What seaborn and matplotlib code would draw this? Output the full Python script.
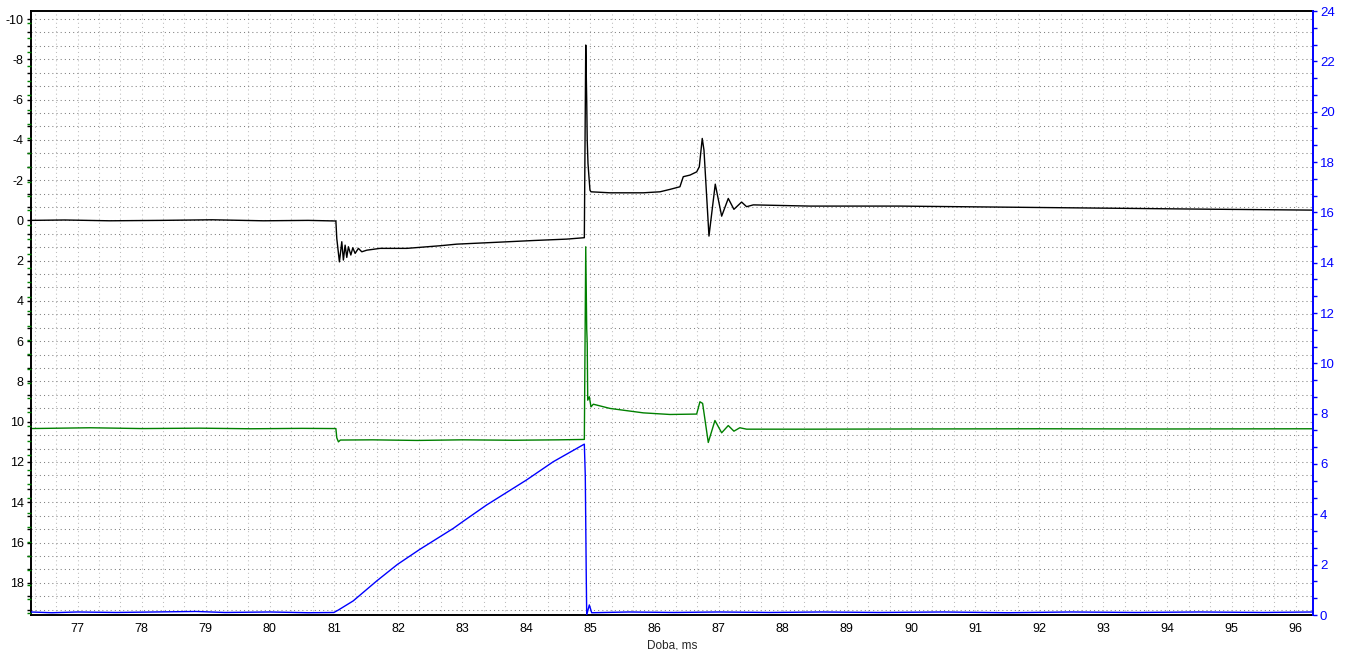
import numpy as np
import pandas as pd
import matplotlib
matplotlib.use("Agg")
import matplotlib.pyplot as plt
from matplotlib.ticker import MultipleLocator
import seaborn as sns

# --- data (time in ms) ---
black_t = [76.27, 76.8, 77.5, 78.3, 79.1, 79.9, 80.6, 81.03, 81.044, 81.085, 81.122, 81.147,
           81.174, 81.200, 81.225, 81.263, 81.294, 81.330, 81.381, 81.434, 81.512, 81.719,
           82.136, 82.655, 82.915, 83.590, 84.110, 84.630, 84.905, 84.927, 84.942, 84.95,
           84.962, 84.977, 84.993, 85.009, 85.305, 85.825, 86.085, 86.241, 86.396, 86.448,
           86.553, 86.657, 86.698, 86.744, 86.771, 86.849, 86.947, 87.047, 87.150, 87.238,
           87.358, 87.436, 87.540, 88.424, 89.82, 91.38, 92.94, 94.5, 96.27]
black_v = [0.0, -0.02, 0.02, 0.0, -0.03, 0.02, 0.0, 0.03, 0.9, 2.06, 1.06, 1.97,
           1.23, 1.84, 1.31, 1.72, 1.36, 1.64, 1.39, 1.56, 1.48, 1.39,
           1.39, 1.26, 1.18, 1.08, 1.0, 0.93, 0.86, -8.71, -5.98, -3.99,
           -2.83, -2.17, -1.5, -1.42, -1.37, -1.37, -1.42, -1.54, -1.67, -2.17,
           -2.25, -2.41, -2.66, -4.07, -3.49, 0.78, -1.8, -0.21, -1.09, -0.55,
           -0.91, -0.68, -0.77, -0.71, -0.71, -0.66, -0.61, -0.56, -0.51]

green_t = [76.27, 77.2, 78.0, 78.9, 79.7, 80.5, 81.03, 81.044, 81.07, 81.1, 81.6, 82.3,
           83.0, 83.8, 84.5, 84.905, 84.927, 84.942, 84.95, 84.958, 84.983, 85.009,
           85.045, 85.305, 85.825, 86.24, 86.657, 86.708, 86.75, 86.838, 86.942, 87.047,
           87.15, 87.238, 87.33, 87.436, 88.424, 90.0, 92.0, 94.0, 96.27]
green_v = [10.34, 10.3, 10.34, 10.32, 10.35, 10.33, 10.34, 10.8, 11.0, 10.91, 10.9, 10.93,
           10.9, 10.92, 10.9, 10.88, 1.31, 5.37, 6.11, 8.93, 8.76, 9.26,
           9.13, 9.34, 9.56, 9.64, 9.62, 9.01, 9.09, 11.03, 9.94, 10.55,
           10.19, 10.47, 10.30, 10.37, 10.37, 10.36, 10.35, 10.36, 10.35]

blue_t = [76.27, 76.6, 77.0, 77.6, 78.2, 78.85, 79.3, 80.0, 80.6, 81.0, 81.07, 81.3,
          81.67, 81.99, 82.34, 82.86, 83.02, 83.38, 84.0, 84.42, 84.905, 84.92, 84.935,
          84.942, 84.983, 85.02, 85.6, 86.3, 87.0, 87.8, 88.6, 89.5, 90.5, 91.5, 92.5,
          93.5, 94.5, 95.5, 96.27]
blue_v = [0.12, 0.09, 0.12, 0.1, 0.12, 0.14, 0.1, 0.12, 0.09, 0.1, 0.2, 0.56,
          1.36, 2.01, 2.61, 3.44, 3.73, 4.37, 5.36, 6.09, 6.79, 5.52, 1.55,
          0.0, 0.4, 0.09, 0.12, 0.1, 0.12, 0.1, 0.12, 0.1, 0.12, 0.09, 0.12,
          0.1, 0.12, 0.1, 0.12]

left_ticks = list(range(-10, 19, 2))
right_ticks = list(range(0, 25, 2))
x_ticks = list(range(77, 97))

sns.set_style("white")
plt.rcParams['font.family'] = ['Liberation Sans', 'DejaVu Sans']
plt.rcParams['font.size'] = 8.5
plt.rcParams['axes.unicode_minus'] = False

fig = plt.figure(figsize=(13.45, 6.5), dpi=100)
ax = fig.add_axes([30.7 / 1345, 1 - 615 / 650, (1313 - 30.7) / 1345, 604 / 650])
ax2 = ax.twinx()

lw = 1.0
sns.lineplot(x=black_t, y=black_v, ax=ax, color="black", linewidth=lw,
             estimator=None, sort=False)
sns.lineplot(x=green_t, y=green_v, ax=ax, color="#008000", linewidth=lw,
             estimator=None, sort=False)
sns.lineplot(x=blue_t, y=blue_v, ax=ax2, color="#0000ff", linewidth=lw,
             estimator=None, sort=False)

ax.set_xlim(76.27, 96.27)
ax.set_ylim(19.6, -10.4)
ax2.set_ylim(0, 24)

ax.set_xticks(x_ticks)
ax.xaxis.set_minor_locator(MultipleLocator(1 / 3))
ax.set_yticks(left_ticks)
ax.yaxis.set_minor_locator(MultipleLocator(2 / 3))
ax2.set_yticks(right_ticks)
ax2.yaxis.set_minor_locator(MultipleLocator(2 / 3))

ax.tick_params(axis="both", which="both", direction="out", length=3, width=1,
               colors="black", pad=2, labelsize=9)
ax2.tick_params(axis="y", which="both", direction="out", length=3, width=1,
                colors="#0000ff", pad=2, labelsize=9.5)
ax.tick_params(axis="x", pad=3)

# dotted grid
ax.grid(which="both", axis="y", color="#808080", linestyle=(0, (1, 3)), linewidth=0.75)
ax.grid(which="both", axis="x", color="#bdbdbd", linestyle=(0, (1, 3)), linewidth=0.75)
ax.set_axisbelow(True)

for side in ["left", "top", "bottom"]:
    ax.spines[side].set_color("black")
    ax.spines[side].set_linewidth(1.4)
ax.spines["right"].set_visible(False)
for side in ["left", "top", "bottom"]:
    ax2.spines[side].set_visible(False)
ax2.spines["right"].set_color("#0000ff")
ax2.spines["right"].set_linewidth(1.4)

# green channel ticks on the left spine
ax3 = ax.twinx()
ax3.set_ylim(19.6, -10.4)
ax3.yaxis.tick_left()
ax3.set_yticks(np.arange(-9.79, 19.6, 0.715))
ax3.tick_params(axis="y", length=3, width=1, colors="#008000", labelleft=False)
for s in ax3.spines.values():
    s.set_visible(False)

ax.set_xlabel("Doba, ms", fontsize=8.5, labelpad=3)
ax.set_ylabel("")
ax2.set_ylabel("")

fig.savefig("out.png", dpi=100)
